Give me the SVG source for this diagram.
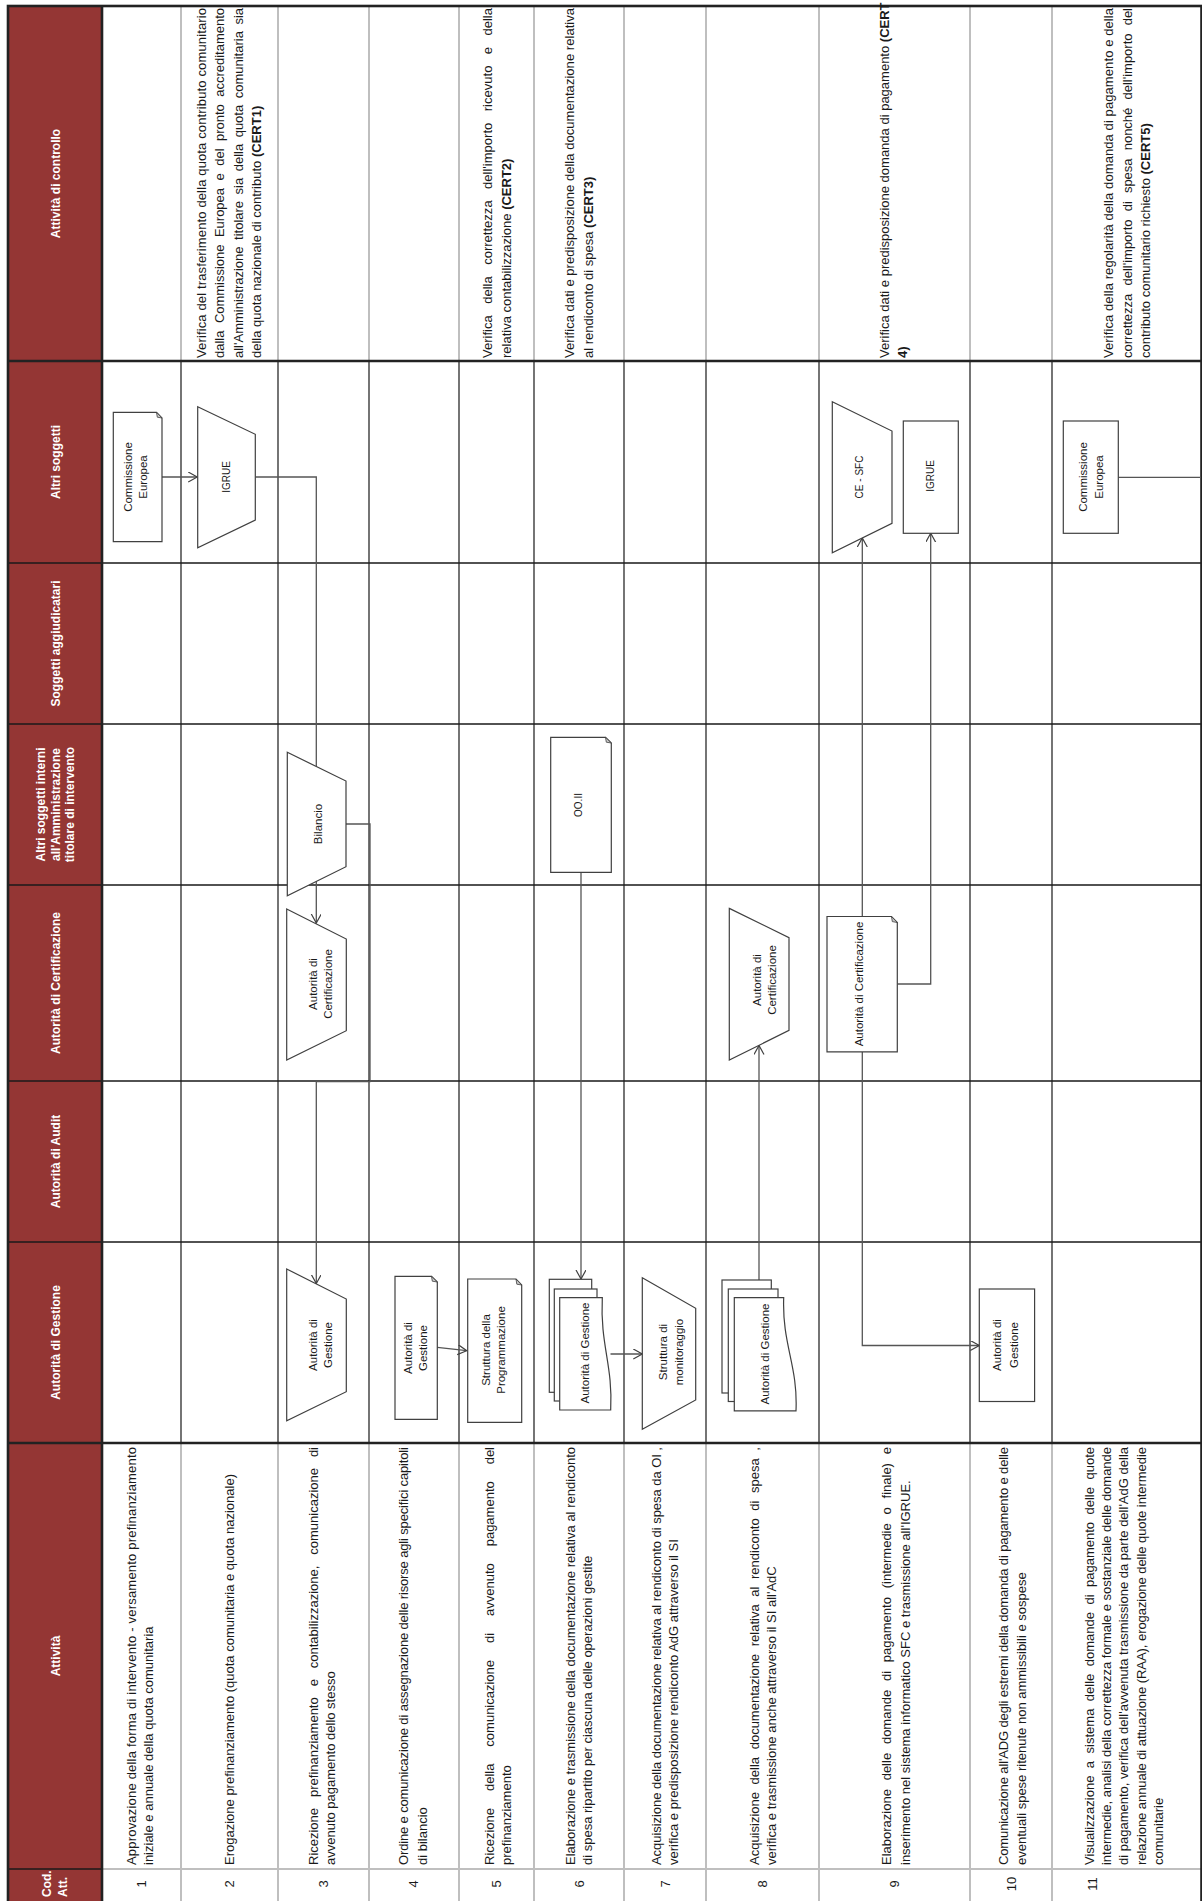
<svg xmlns="http://www.w3.org/2000/svg" width="1202" height="1901" viewBox="0 0 1202 1901">
<defs>
<style>
.hdr{fill:#943634}
.ht{font-family:'Liberation Sans',Arial,sans-serif;font-size:12px;font-weight:bold;fill:#fff;text-anchor:middle}
.t{font-family:'Liberation Sans',Arial,sans-serif;font-size:13px;fill:#1a1a1a}
.b{font-weight:bold}
.lbl{font-family:'Liberation Sans',Arial,sans-serif;font-size:11.5px;fill:#1a1a1a;text-anchor:middle}
.lbs{font-size:10px}
.num{font-family:'Liberation Sans',Arial,sans-serif;font-size:13px;fill:#1a1a1a;text-anchor:middle}
.gl{stroke:#bfbfbf;stroke-width:2;fill:none}
.bl{stroke:#1a1a1a;stroke-width:1.2;fill:none}
.ln{stroke:#1a1a1a;stroke-width:1.6;fill:none}
.th{stroke:#222;stroke-width:2.6;fill:none}
.sh{fill:#fff;stroke:#404040;stroke-width:1.2}
.fold{fill:#c8c8c8;stroke:#404040;stroke-width:0.8}
.cn{fill:none;stroke:#555;stroke-width:1.3}
</style>
<marker id="arr" markerWidth="12" markerHeight="12" refX="9" refY="5" orient="auto" markerUnits="userSpaceOnUse">
<path d="M0,0 L9,5 L0,10" fill="none" stroke="#404040" stroke-width="1.2"/>
</marker>
</defs>
<rect x="0" y="0" width="1202" height="1901" fill="#fff"/>

<g id="grid">
<rect class="hdr" x="8" y="6" width="94" height="1895"/>
<g class="gl">
<path d="M181,6V361M278,6V361M369,6V361M459,6V361M534,6V361M624,6V361M706,6V361M819,6V361M970,6V361M1052,6V361"/>
<path d="M181,1443V1901M278,1443V1901M369,1443V1901M459,1443V1901M534,1443V1901M624,1443V1901M706,1443V1901M819,1443V1901M970,1443V1901M1052,1443V1901"/>
<path d="M102,1869H1201"/>
</g>
<path class="bl" d="M181,361V1443M278,361V1443M369,361V1443M459,361V1443M534,361V1443M624,361V1443M706,361V1443M819,361V1443M970,361V1443M1052,361V1443"/>
<path class="ln" d="M8,563H1201M8,724H1201M8,885H1201M8,1081H1201M8,1242H1201M8,1869H102"/>
<path class="th" d="M8,361H1201M8,1443H1201M102,6V1901"/>
<rect class="th" x="8" y="6" width="1193.5" height="1900"/>
</g>

<g id="headers" transform="rotate(-90)">
<text class="ht" x="-183.5" y="60">Attività di controllo</text>
<text class="ht" x="-462" y="60">Altri soggetti</text>
<text class="ht" x="-643.5" y="60">Soggetti aggiudicatari</text>
<text class="ht" x="-804.5" y="45">Altri soggetti interni</text>
<text class="ht" x="-804.5" y="59.5">all'Amministrazione</text>
<text class="ht" x="-804.5" y="74">titolare di intervento</text>
<text class="ht" x="-983" y="60">Autorità di Certificazione</text>
<text class="ht" x="-1161.5" y="60">Autorità di Audit</text>
<text class="ht" x="-1342.5" y="60">Autorità di Gestione</text>
<text class="ht" x="-1656" y="60">Attività</text>
<text class="ht" x="-1897" y="51" style="text-anchor:start">Cod.</text>
<text class="ht" x="-1897" y="67" style="text-anchor:start">Att.</text>
</g>

<g id="numbers" transform="rotate(-90)">
<text class="num" x="-1884" y="146">1</text>
<text class="num" x="-1884" y="234">2</text>
<text class="num" x="-1884" y="328">3</text>
<text class="num" x="-1884" y="418">4</text>
<text class="num" x="-1884" y="501">5</text>
<text class="num" x="-1884" y="583.5">6</text>
<text class="num" x="-1884" y="669.5">7</text>
<text class="num" x="-1884" y="767">8</text>
<text class="num" x="-1884" y="899">9</text>
<text class="num" x="-1884" y="1015.5">10</text>
<text class="num" x="-1884" y="1096.5">11</text>
</g>

<g id="attivita" transform="rotate(-90)">
<text class="t" x="-1865" y="135.5" textLength="418" lengthAdjust="spacing">Approvazione della forma di intervento - versamento prefinanziamento</text>
<text class="t" x="-1865" y="153">iniziale e annuale della quota comunitaria</text>
<text class="t" x="-1865" y="233.5">Erogazione prefinanziamento (quota comunitaria e quota nazionale)</text>
<text class="t" x="-1865" y="318" textLength="418" lengthAdjust="spacing" style="word-spacing:7.3px">Ricezione prefinanziamento e contabilizzazione, comunicazione di</text>
<text class="t" x="-1865" y="334.7">avvenuto pagamento dello stesso</text>
<text class="t" x="-1865" y="408.3" textLength="418" lengthAdjust="spacing">Ordine e comunicazione di assegnazione delle risorse agli specifici capitoli</text>
<text class="t" x="-1865" y="426.7">di bilancio</text>
<text class="t" x="-1865" y="494.2" textLength="418" lengthAdjust="spacing" style="word-spacing:13.3px">Ricezione della comunicazione di avvenuto pagamento del</text>
<text class="t" x="-1865" y="511">prefinanziamento</text>
<text class="t" x="-1865" y="574.7" textLength="418" lengthAdjust="spacing">Elaborazione e trasmissione della documentazione relativa al rendiconto</text>
<text class="t" x="-1865" y="592.3">di spesa ripartito per ciascuna delle operazioni gestite</text>
<text class="t" x="-1865" y="661.3" textLength="418" lengthAdjust="spacing">Acquisizione della documentazione relativa al rendiconto di spesa da OI ,</text>
<text class="t" x="-1865" y="678.2">verifica e predisposizione rendiconto AdG attraverso il SI</text>
<text class="t" x="-1865" y="758.7" textLength="418" lengthAdjust="spacing" style="word-spacing:4px">Acquisizione della documentazione relativa al rendiconto di spesa ,</text>
<text class="t" x="-1865" y="776.3">verifica e trasmissione anche attraverso il SI all'AdC</text>
<text class="t" x="-1865" y="891.3" textLength="418" lengthAdjust="spacing" style="word-spacing:5.2px">Elaborazione delle domande di pagamento (intermedie o finale) e</text>
<text class="t" x="-1865" y="909.7">inserimento nel sistema informatico SFC e trasmissione all'IGRUE.</text>
<text class="t" x="-1865" y="1007.8" textLength="418" lengthAdjust="spacing">Comunicazione all'ADG degli estremi della domanda di pagamento e delle</text>
<text class="t" x="-1865" y="1026.2">eventuali spese ritenute non ammissibili e sospese</text>
<text class="t" x="-1865" y="1094" textLength="418" lengthAdjust="spacing" style="word-spacing:3.8px">Visualizzazione a sistema delle domande di pagamento delle quote</text>
<text class="t" x="-1865" y="1111.2" textLength="418" lengthAdjust="spacing">intermedie, analisi della correttezza formale e sostanziale delle domande</text>
<text class="t" x="-1865" y="1128.4" textLength="418" lengthAdjust="spacing">di pagamento, verifica dell'avvenuta trasmissione da parte dell'AdG della</text>
<text class="t" x="-1865" y="1145.6" textLength="418" lengthAdjust="spacing">relazione annuale di attuazione (RAA), erogazione delle quote intermedie</text>
<text class="t" x="-1865" y="1162.8">comunitarie</text>
</g>

<g id="controllo" transform="rotate(-90)">
<text class="t" x="-358" y="206.2" textLength="350" lengthAdjust="spacing">Verifica del trasferimento della quota contributo comunitario</text>
<text class="t" x="-358" y="224.2" textLength="350" lengthAdjust="spacing" style="word-spacing:3.9px">dalla Commissione Europea e del pronto accreditamento</text>
<text class="t" x="-358" y="242.7" textLength="350" lengthAdjust="spacing" style="word-spacing:2.9px">all'Amministrazione titolare sia della quota comunitaria sia</text>
<text class="t" x="-358" y="260.8">della quota nazionale di contributo <tspan class="b">(CERT1)</tspan></text>
<text class="t" x="-358" y="491.8" textLength="350" lengthAdjust="spacing" style="word-spacing:7.8px">Verifica della correttezza dell'importo ricevuto e della</text>
<text class="t" x="-358" y="510.8">relativa contabilizzazione <tspan class="b">(CERT2)</tspan></text>
<text class="t" x="-358" y="574.2" textLength="350" lengthAdjust="spacing">Verifica dati e predisposizione della documentazione relativa</text>
<text class="t" x="-358" y="592.8">al rendiconto di spesa <tspan class="b">(CERT3)</tspan></text>
<text class="t" x="-358" y="888.5">Verifica dati e predisposizione domanda di pagamento <tspan class="b">(CERT</tspan></text>
<text class="t b" x="-358" y="906.5">4)</text>
<text class="t" x="-358" y="1112.8" textLength="350" lengthAdjust="spacing">Verifica della regolarità della domanda di pagamento e della</text>
<text class="t" x="-358" y="1131.8" textLength="350" lengthAdjust="spacing" style="word-spacing:4.5px">correttezza dell'importo di spesa nonché dell'importo del</text>
<text class="t" x="-358" y="1150.2">contributo comunitario richiesto <tspan class="b">(CERT5)</tspan></text>
</g>

<g id="connectors" class="cn">
<path d="M162,477H197.2" marker-end="url(#arr)"/>
<path d="M255.3,477H316.3V923" marker-end="url(#arr)"/>
<path d="M346,824H370V1081.7H316.3V1283.5" marker-end="url(#arr)"/>
<path d="M581,872.3V1279" marker-end="url(#arr)"/>
<path d="M437.3,1347.3L466.7,1350.7" marker-end="url(#arr)"/>
<path d="M610.5,1354H642.3" marker-end="url(#arr)"/>
<path d="M759,1280V1045.5" marker-end="url(#arr)"/>
<path d="M862.3,916.5V538" marker-end="url(#arr)"/>
<path d="M897.3,984H930.7V533.3" marker-end="url(#arr)"/>
<path d="M862.3,1051.9V1345.5H979.3" marker-end="url(#arr)"/>
<path d="M1118.3,477.3H1201"/>
</g>

<g id="n1-commissione">
<path class="sh" d="M113.3,412.3H156.5L162,418V541.7H113.3Z"/>
<path class="fold" d="M156.5,412.3L157.3,417.2L162,418Z"/>
<g transform="rotate(-90)"><text class="lbl" x="-477" y="132.1">Commissione</text><text class="lbl" x="-477" y="146.5">Europea</text></g>
</g>
<g id="n2-igrue">
<polygon class="sh" points="197.7,406.7 255.3,434.3 255.3,520 197.7,547.7"/>
<g transform="rotate(-90)"><text class="lbl lbs" x="-477" y="230.3">IGRUE</text></g>
</g>
<g id="n3-bilancio">
<polygon class="sh" points="287.3,752.3 346,781 346,866.7 287.3,895.7"/>
<g transform="rotate(-90)"><text class="lbl" x="-824" y="322">Bilancio</text></g>
</g>
<g id="n3-adc">
<polygon class="sh" points="286.7,909 346.3,939 346.3,1030.7 286.7,1060"/>
<g transform="rotate(-90)"><text class="lbl" x="-984" y="316.5">Autorità di</text><text class="lbl" x="-984" y="332">Certificazione</text></g>
</g>
<g id="n3-adg">
<polygon class="sh" points="286.7,1269 346.3,1299 346.3,1391.7 286.7,1420.7"/>
<g transform="rotate(-90)"><text class="lbl" x="-1345" y="317">Autorità di</text><text class="lbl" x="-1345" y="332">Gestione</text></g>
</g>
<g id="n4-adg">
<path class="sh" d="M395,1276.3H431.5L437.3,1282V1419.3H395Z"/>
<path class="fold" d="M431.5,1276.3L432.3,1281.2L437.3,1282Z"/>
<g transform="rotate(-90)"><text class="lbl" x="-1348" y="411.5">Autorità di</text><text class="lbl" x="-1348" y="426.5">Gestione</text></g>
</g>
<g id="n5-programmazione">
<path class="sh" d="M467.7,1279H516L521.7,1285V1422.3H467.7Z"/>
<path class="fold" d="M516,1279L516.8,1284.2L521.7,1285Z"/>
<g transform="rotate(-90)"><text class="lbl" x="-1350" y="489.5">Struttura della</text><text class="lbl" x="-1350" y="504.8">Programmazione</text></g>
</g>
<g id="n6-ooii">
<path class="sh" d="M550.7,737.3H605.5L611.3,743V872.3H550.7Z"/>
<path class="fold" d="M605.5,737.3L606.3,742.2L611.3,743Z"/>
<g transform="rotate(-90)"><text class="lbl lbs" x="-805" y="582">OO.II</text></g>
</g>
<g id="n6-adg">
<rect class="sh" x="549.3" y="1279.3" width="42.4" height="113"/>
<rect class="sh" x="554.3" y="1289" width="42.7" height="112"/>
<path class="sh" d="M559.7,1297.7H602.3C600,1345 613,1365 610.7,1410H559.7Z"/>
<g transform="rotate(-90)"><text class="lbl" x="-1353" y="588.8">Autorità di Gestione</text></g>
</g>
<g id="n7-monitoraggio">
<polygon class="sh" points="642.3,1277.7 695.7,1308.3 695.7,1400 642.3,1429.3"/>
<g transform="rotate(-90)"><text class="lbl" x="-1352" y="667">Struttura di</text><text class="lbl" x="-1352" y="683">monitoraggio</text></g>
</g>
<g id="n8-adc">
<polygon class="sh" points="729.3,908.4 789,937.7 789,1030.4 729.3,1060"/>
<g transform="rotate(-90)"><text class="lbl" x="-980" y="760.5">Autorità di</text><text class="lbl" x="-980" y="775.5">Certificazione</text></g>
</g>
<g id="n8-adg">
<rect class="sh" x="722" y="1280" width="49.3" height="113"/>
<rect class="sh" x="728.3" y="1289" width="49.7" height="112.5"/>
<path class="sh" d="M734.3,1297.7H783.7C782,1345 798,1365 796,1410.8H734.3Z"/>
<g transform="rotate(-90)"><text class="lbl" x="-1354" y="768.8">Autorità di Gestione</text></g>
</g>
<g id="n9-cesfc">
<polygon class="sh" points="832.3,401.7 892,431 892,523.3 832.3,552.7"/>
<g transform="rotate(-90)"><text class="lbl lbs" x="-477" y="863">CE - SFC</text></g>
</g>
<g id="n9-igrue">
<rect class="sh" x="903.3" y="421" width="55" height="112.3"/>
<g transform="rotate(-90)"><text class="lbl lbs" x="-476" y="934.3">IGRUE</text></g>
</g>
<g id="n9-adc">
<path class="sh" d="M827,916.5H891.5L897.3,922.5V1051.9H827Z"/>
<path class="fold" d="M891.5,916.5L892.3,921.6L897.3,922.5Z"/>
<g transform="rotate(-90)"><text class="lbl" x="-984" y="862.8">Autorità di Certificazione</text></g>
</g>
<g id="n10-adg">
<rect class="sh" x="979.3" y="1289" width="55.3" height="112.5"/>
<g transform="rotate(-90)"><text class="lbl" x="-1345" y="1000.8">Autorità di</text><text class="lbl" x="-1345" y="1017.8">Gestione</text></g>
</g>
<g id="n11-commissione">
<rect class="sh" x="1063.3" y="421" width="55" height="112.3"/>
<g transform="rotate(-90)"><text class="lbl" x="-477" y="1087">Commissione</text><text class="lbl" x="-477" y="1103">Europea</text></g>
</g>
</svg>
